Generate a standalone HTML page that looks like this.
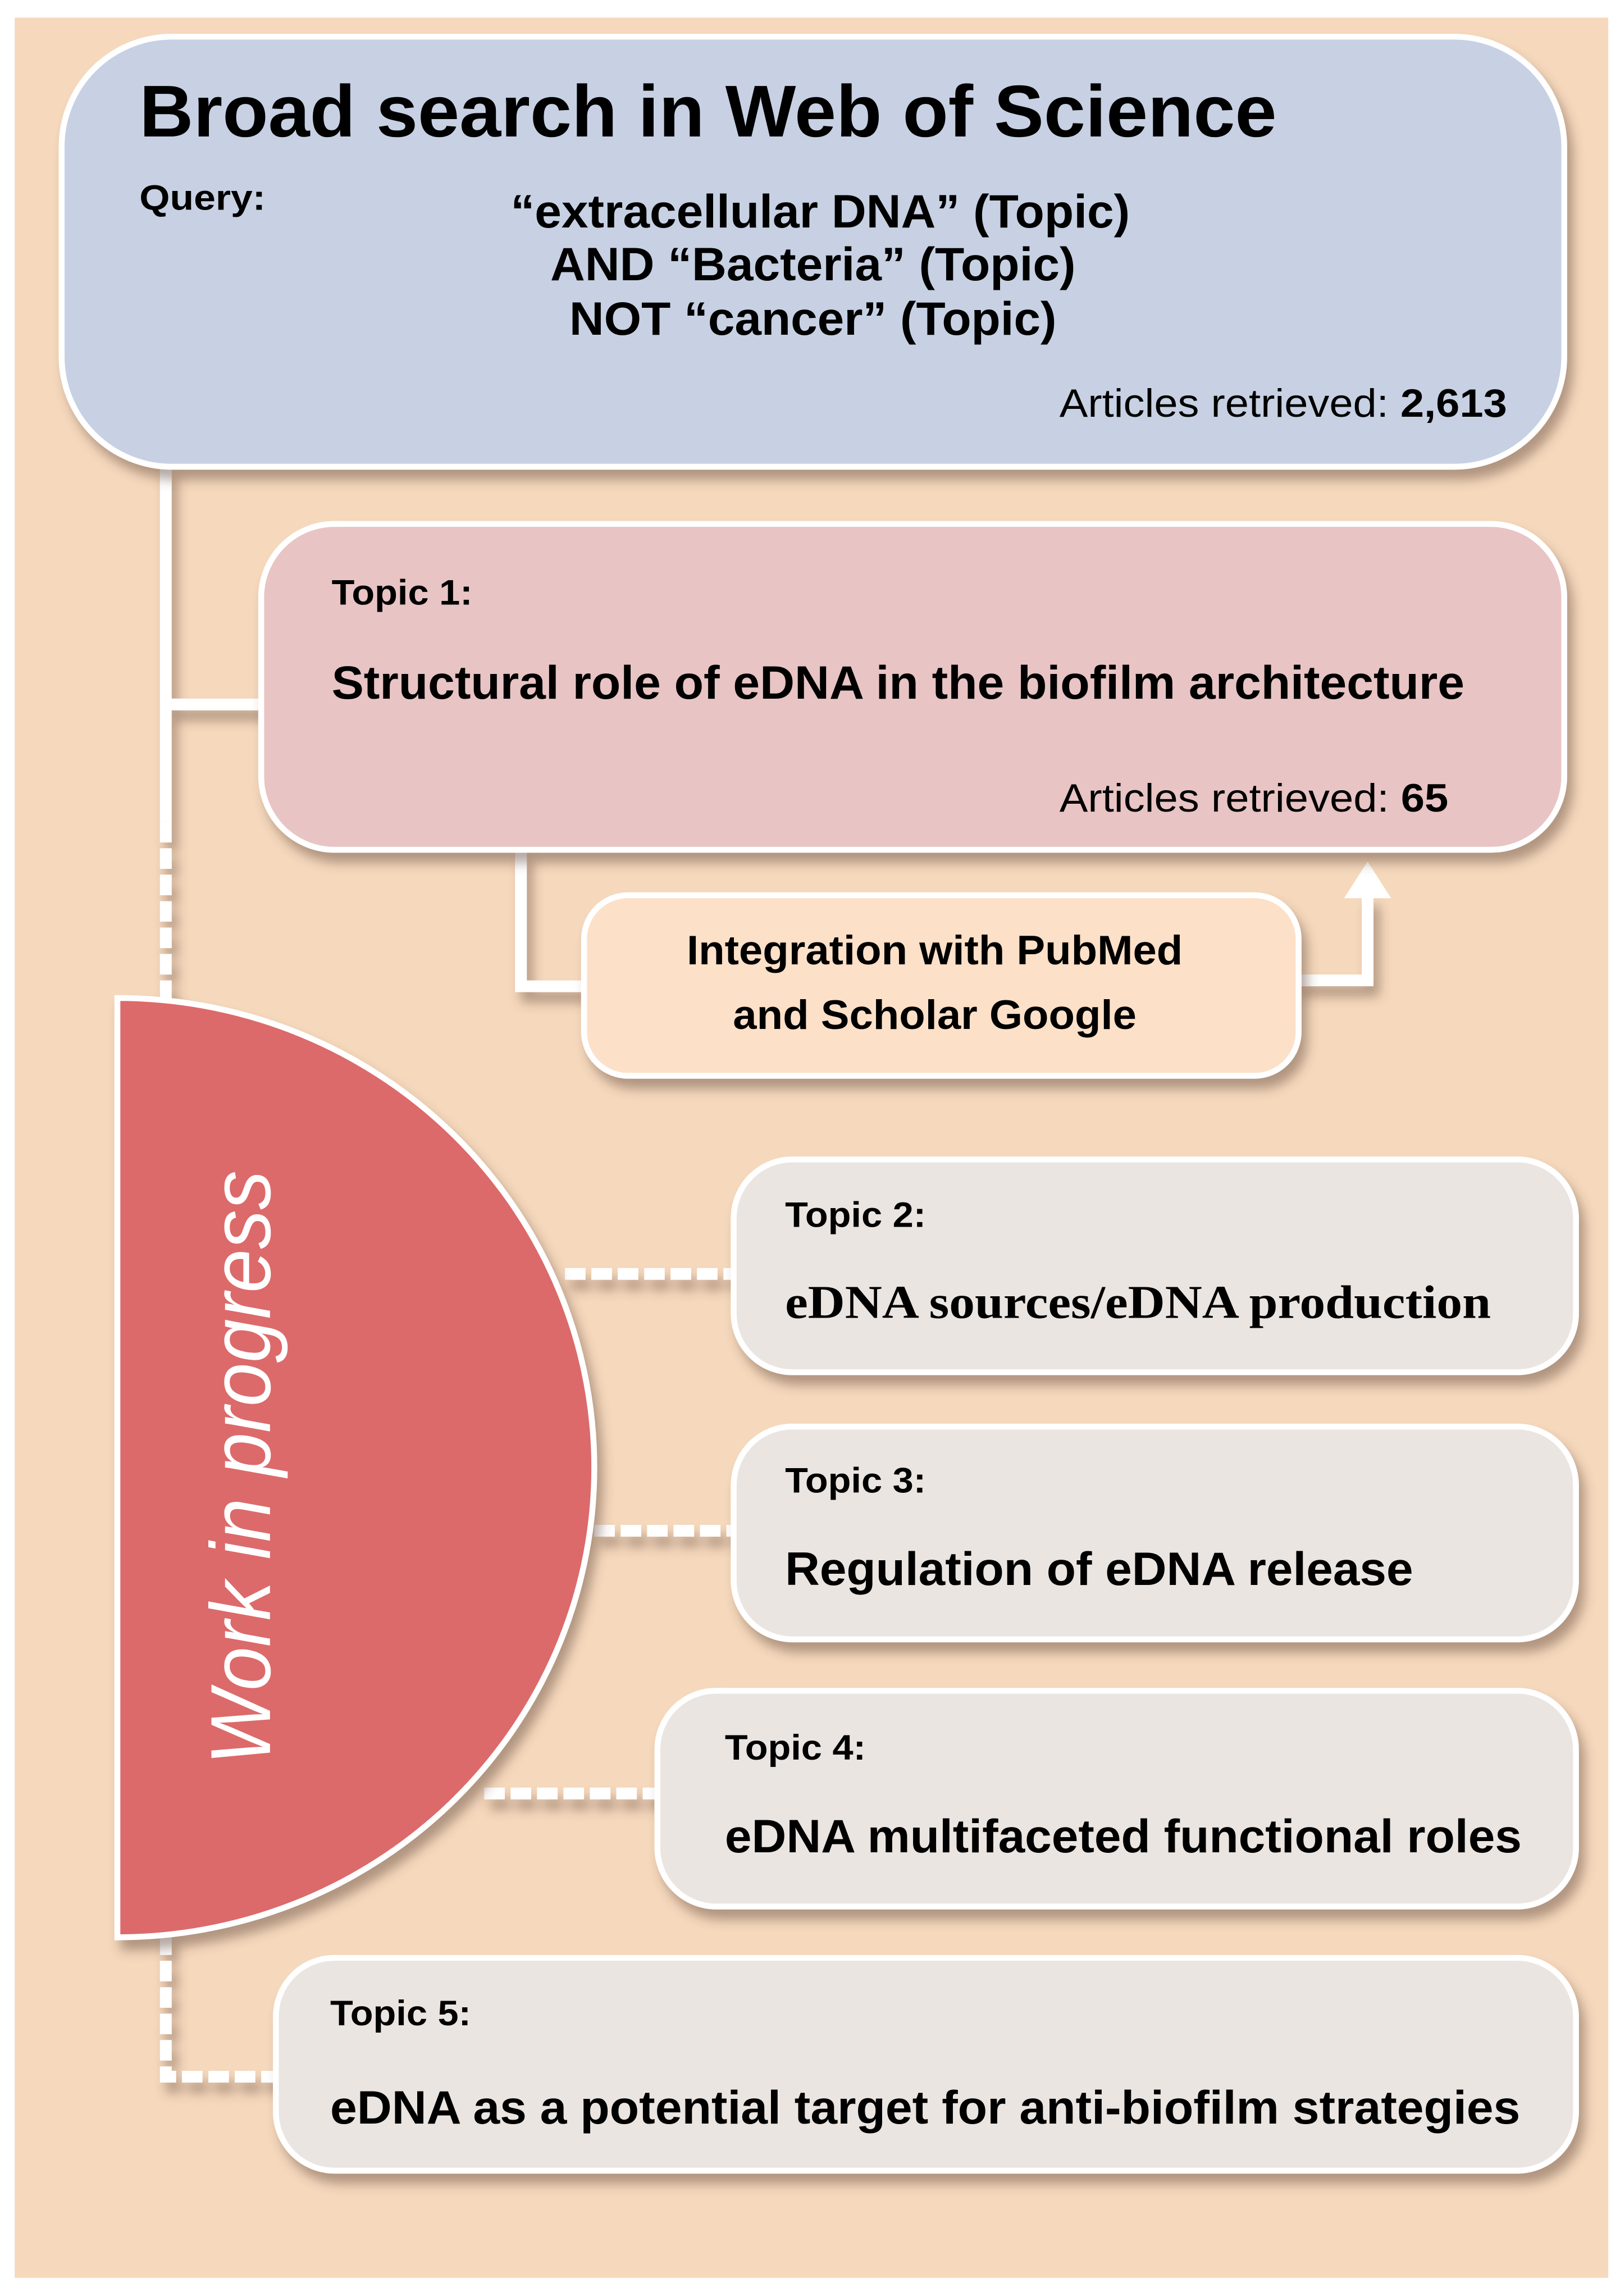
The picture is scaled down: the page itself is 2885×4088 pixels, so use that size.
<!DOCTYPE html>
<html><head><meta charset="utf-8"><style>html,body{margin:0;padding:0;background:#fff}svg{display:block}</style></head>
<body>
<svg width="2885" height="4088" viewBox="0 0 1104 1564.4" preserveAspectRatio="none" xmlns="http://www.w3.org/2000/svg" font-family="Liberation Sans, Arial, sans-serif">
<defs>
<filter id="sh" x="-10%" y="-10%" width="130%" height="140%"><feDropShadow dx="4" dy="7" stdDeviation="4" flood-color="#5a4030" flood-opacity="0.45"/></filter>
</defs>
<rect x="0" y="0" width="1104" height="1564.4" fill="#fff"/>
<rect x="10" y="12" width="1086" height="1540" fill="#f6d9bd"/>

<!-- connectors -->
<g stroke="#fff" stroke-width="8" fill="none" filter="url(#sh)">
<path d="M113 318 V560"/>
<path d="M113 480 H180"/>
<path d="M113 560 V682" stroke-dasharray="14 4"/>
<path d="M355 579 V672 H402"/>
<path d="M883 668 H932 V610"/>
<path d="M385 868 H502" stroke-dasharray="14 4"/>
<path d="M405 1043 H502" stroke-dasharray="14 4"/>
<path d="M330 1222 H450" stroke-dasharray="14 4"/>
<path d="M113 1318 V1415 H190" stroke-dasharray="14 4"/>
</g>
<polygon points="916,612 932,587 948,612" fill="#fff"/>

<!-- Box 1 -->
<rect x="42" y="25" width="1024" height="293" rx="75" fill="#c7d1e3" stroke="#fff" stroke-width="4" filter="url(#sh)"/>
<text x="95" y="93" font-size="50" font-weight="bold" textLength="775" lengthAdjust="spacingAndGlyphs">Broad search in Web of Science</text>
<text x="95" y="143" font-size="24" font-weight="bold" textLength="86" lengthAdjust="spacingAndGlyphs">Query:</text>
<g font-size="32" font-weight="bold">
<text x="348" y="155" textLength="422" lengthAdjust="spacingAndGlyphs">“extracellular DNA” (Topic)</text>
<text x="375" y="191" textLength="358" lengthAdjust="spacingAndGlyphs">AND “Bacteria” (Topic)</text>
<text x="388" y="228" textLength="332" lengthAdjust="spacingAndGlyphs">NOT “cancer” (Topic)</text>
</g>
<text x="722" y="284" font-size="27" textLength="305" lengthAdjust="spacingAndGlyphs">Articles retrieved: <tspan font-weight="bold">2,613</tspan></text>

<!-- Topic 1 -->
<rect x="178" y="357" width="888" height="222" rx="50" fill="#e8c4c4" stroke="#fff" stroke-width="4" filter="url(#sh)"/>
<text x="226" y="412" font-size="24" font-weight="bold" textLength="96" lengthAdjust="spacingAndGlyphs">Topic 1:</text>
<text x="226" y="476" font-size="32" font-weight="bold" textLength="772" lengthAdjust="spacingAndGlyphs">Structural role of eDNA in the biofilm architecture</text>
<text x="722" y="553" font-size="27" textLength="265" lengthAdjust="spacingAndGlyphs">Articles retrieved: <tspan font-weight="bold">65</tspan></text>

<!-- Integration -->
<rect x="398" y="610" width="487" height="123" rx="30" fill="#fde0c8" stroke="#fff" stroke-width="4" filter="url(#sh)"/>
<text x="637" y="657" font-size="28" font-weight="bold" text-anchor="middle" textLength="338" lengthAdjust="spacingAndGlyphs">Integration with PubMed</text>
<text x="637" y="701" font-size="28" font-weight="bold" text-anchor="middle" textLength="275" lengthAdjust="spacingAndGlyphs">and Scholar Google</text>

<!-- Half circle -->
<path d="M80 680 A325 320 0 0 1 80 1320 Z" fill="#dc6a6a" stroke="#fff" stroke-width="4" filter="url(#sh)"/>
<text transform="translate(184,1000) rotate(-90)" font-size="58" font-style="italic" fill="#fff" text-anchor="middle" textLength="405" lengthAdjust="spacingAndGlyphs">Work in progress</text>

<!-- Topic 2 -->
<rect x="500" y="790" width="574" height="145" rx="40" fill="#ebe5e1" stroke="#fff" stroke-width="4" filter="url(#sh)"/>
<text x="535" y="836" font-size="24" font-weight="bold" textLength="96" lengthAdjust="spacingAndGlyphs">Topic 2:</text>
<text x="535" y="898" font-size="32" font-weight="bold" font-family="Liberation Serif, serif" textLength="481" lengthAdjust="spacingAndGlyphs">eDNA sources/eDNA production</text>

<!-- Topic 3 -->
<rect x="500" y="972" width="574" height="145" rx="40" fill="#ebe5e1" stroke="#fff" stroke-width="4" filter="url(#sh)"/>
<text x="535" y="1017" font-size="24" font-weight="bold" textLength="96" lengthAdjust="spacingAndGlyphs">Topic 3:</text>
<text x="535" y="1080" font-size="32" font-weight="bold" textLength="428" lengthAdjust="spacingAndGlyphs">Regulation of eDNA release</text>

<!-- Topic 4 -->
<rect x="448" y="1152" width="626" height="147" rx="40" fill="#ebe5e1" stroke="#fff" stroke-width="4" filter="url(#sh)"/>
<text x="494" y="1199" font-size="24" font-weight="bold" textLength="96" lengthAdjust="spacingAndGlyphs">Topic 4:</text>
<text x="494" y="1262" font-size="32" font-weight="bold" textLength="543" lengthAdjust="spacingAndGlyphs">eDNA multifaceted functional roles</text>

<!-- Topic 5 -->
<rect x="188" y="1334" width="886" height="145" rx="40" fill="#ebe5e1" stroke="#fff" stroke-width="4" filter="url(#sh)"/>
<text x="225" y="1380" font-size="24" font-weight="bold" textLength="96" lengthAdjust="spacingAndGlyphs">Topic 5:</text>
<text x="225" y="1447" font-size="32" font-weight="bold" textLength="811" lengthAdjust="spacingAndGlyphs">eDNA as a potential target for anti-biofilm strategies</text>
</svg>
</body></html>
